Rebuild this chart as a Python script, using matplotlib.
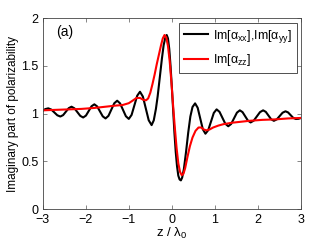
import matplotlib
matplotlib.use("Agg")
import matplotlib.pyplot as plt

plt.rcParams['font.family'] = ['Liberation Sans', 'DejaVu Sans']
plt.rcParams['mathtext.fontset'] = 'custom'
plt.rcParams['mathtext.rm'] = 'Liberation Sans'
plt.rcParams['mathtext.it'] = 'Liberation Sans'
plt.rcParams['mathtext.bf'] = 'Liberation Sans:bold'

# Im[alpha_xx], Im[alpha_yy]
z_xx = [-3.00, -2.94, -2.87, -2.80, -2.73, -2.66, -2.59, -2.525, -2.46, -2.395, -2.33,
        -2.2625, -2.195, -2.1275, -2.06, -1.995, -1.93, -1.865, -1.80, -1.735, -1.67, -1.605,
        -1.54, -1.4725, -1.405, -1.3375, -1.27, -1.2025, -1.135, -1.0675, -1.00, -0.935, -0.87,
        -0.805, -0.74, -0.6725, -0.605, -0.5375, -0.47, -0.42, -0.37, -0.33, -0.28, -0.23,
        -0.19, -0.15, -0.12, -0.09, -0.06, -0.03, 0.00, 0.03, 0.06, 0.09, 0.12, 0.15, 0.18,
        0.21, 0.24, 0.28, 0.33, 0.38, 0.43, 0.48, 0.54, 0.60, 0.66, 0.72, 0.78, 0.845, 0.91,
        0.975, 1.04, 1.1075, 1.175, 1.2425, 1.31, 1.3775, 1.445, 1.5125, 1.58, 1.6425, 1.705,
        1.7675, 1.83, 1.9025, 1.975, 2.0475, 2.12, 2.1825, 2.245, 2.3075, 2.37, 2.4375, 2.505,
        2.5725, 2.64, 2.70, 2.76, 2.82, 2.88, 2.94, 3.00]
im_xx = [1.030, 1.048, 1.056, 1.043, 1.013, 0.983, 0.970, 0.985, 1.0215, 1.058, 1.073,
         1.056, 1.0165, 0.977, 0.960, 0.980, 1.029, 1.078, 1.098, 1.076, 1.024, 0.972,
         0.950, 0.977, 1.043, 1.109, 1.136, 1.108, 1.0405, 0.973, 0.945, 0.987, 1.0875,
         1.188, 1.230, 1.179, 1.055, 0.931, 0.880, 0.93, 1.05, 1.18, 1.38, 1.58,
         1.72, 1.80, 1.825, 1.79, 1.68, 1.50, 1.28, 1.04, 0.80, 0.60, 0.45, 0.35, 0.31,
         0.30, 0.33, 0.42, 0.60, 0.80, 0.97, 1.07, 1.108, 1.062, 0.949, 0.836, 0.790, 0.827, 0.9175,
         1.008, 1.045, 1.019, 0.9565, 0.894, 0.868, 0.892, 0.9515, 1.011, 1.035, 1.016, 0.9715,
         0.927, 0.908, 0.927, 0.9715, 1.016, 1.035, 1.019, 0.980, 0.941, 0.925, 0.940, 0.975,
         1.010, 1.025, 1.013, 0.9845, 0.956, 0.944, 0.946, 0.955]

# Im[alpha_zz]
z_zz = [-3.0, -2.7, -2.4, -2.1, -1.8, -1.5, -1.3, -1.15, -1.0, -0.9, -0.82, -0.74, -0.66,
        -0.60, -0.55, -0.50, -0.45, -0.40, -0.35, -0.30, -0.25, -0.21, -0.17, -0.13, -0.09,
        -0.05, -0.01, 0.03, 0.07, 0.11, 0.15, 0.19, 0.23, 0.27, 0.31, 0.36, 0.42, 0.48, 0.55,
        0.62, 0.68, 0.74, 0.80, 0.88, 0.96, 1.08, 1.2, 1.4, 1.6, 1.8, 2.1, 2.4, 2.7, 3.0]
im_zz = [1.035, 1.040, 1.045, 1.050, 1.060, 1.075, 1.085, 1.090, 1.110, 1.140, 1.165, 1.165, 1.145,
         1.140, 1.160, 1.220, 1.310, 1.410, 1.520, 1.620, 1.720, 1.790, 1.825, 1.800, 1.710,
         1.550, 1.330, 1.080, 0.850, 0.640, 0.480, 0.390, 0.355, 0.370, 0.430, 0.540, 0.660, 0.750, 0.820,
         0.855, 0.855, 0.835, 0.825, 0.835, 0.855, 0.875, 0.890, 0.905, 0.915, 0.925, 0.935, 0.940, 0.950, 0.955]

xticks = [-3, -2, -1, 0, 1, 2, 3]
xtick_labels = ['\u22123', '\u22122', '\u22121', '0', '1', '2', '3']
yticks = [0, 0.5, 1, 1.5, 2]
ytick_labels = ['0', '0.5', '1', '1.5', '2']

fig = plt.figure(figsize=(3.32, 2.47), dpi=100)
ax = fig.add_axes([0.1286, 0.1538, 0.778, 0.772])

ax.plot(z_xx, im_xx, color='black', lw=1.5, label=r'Im[$\alpha_{xx}$],Im[$\alpha_{yy}$]')
ax.plot(z_zz, im_zz, color='#ff0000', lw=1.5, label=r'Im[$\alpha_{zz}$]')

ax.set_xlim(-3, 3)
ax.set_ylim(0, 2)
ax.set_xticks(xticks)
ax.set_xticklabels(xtick_labels)
ax.set_yticks(yticks)
ax.set_yticklabels(ytick_labels)
ax.tick_params(direction='in', length=3, width=0.5, top=True, right=True,
               labelsize=9, color='#555555')
ax.tick_params(axis='x', pad=3.5)
ax.tick_params(axis='y', pad=3)
for s in ax.spines.values():
    s.set_linewidth(0.6)
    s.set_color('#444444')

ax.set_xlabel(r'z / $\lambda_0$', fontsize=9.5, labelpad=0)
ax.set_ylabel('Imaginary part of polarizability', fontsize=8.5, labelpad=2)

ax.text(-2.48, 1.86, '(a)', fontsize=10, ha='center', va='center')

leg = ax.legend(loc='upper right', bbox_to_anchor=(0.983, 0.977), borderaxespad=0,
                fontsize=9, frameon=True, fancybox=False, handlelength=1.9,
                handletextpad=0.4, borderpad=0.4, labelspacing=0.6)
leg.get_frame().set_edgecolor('black')
leg.get_frame().set_linewidth(0.6)

fig.savefig('out.png', dpi=100)
